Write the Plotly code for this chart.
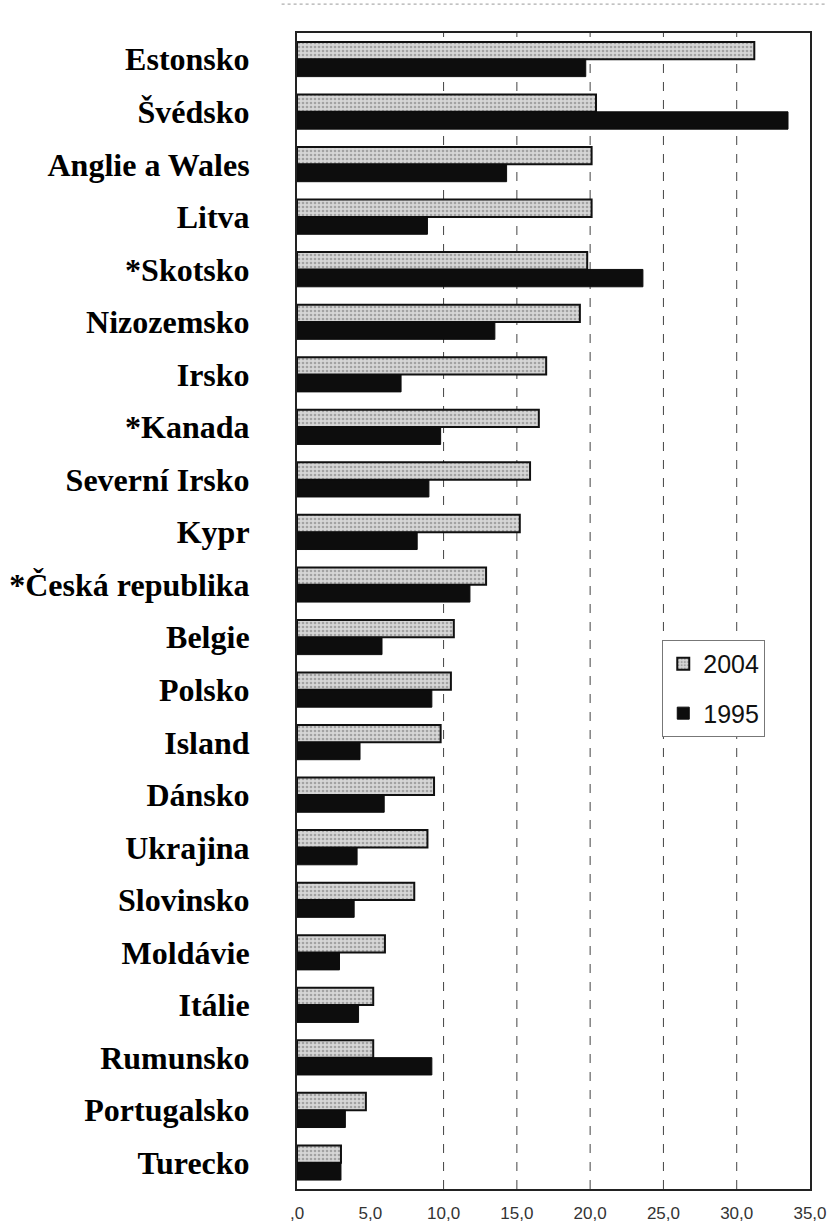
import plotly.graph_objects as go

countries = ['Estonsko', 'Švédsko', 'Anglie a Wales', 'Litva', '*Skotsko', 'Nizozemsko',
             'Irsko', '*Kanada', 'Severní Irsko', 'Kypr', '*Česká republika', 'Belgie',
             'Polsko', 'Island', 'Dánsko', 'Ukrajina', 'Slovinsko', 'Moldávie', 'Itálie',
             'Rumunsko', 'Portugalsko', 'Turecko']
v2004 = [31.2, 20.4, 20.1, 20.1, 19.8, 19.3, 17.0, 16.5, 15.9, 15.2, 12.9, 10.7,
         10.5, 9.8, 9.35, 8.9, 8.0, 6.0, 5.2, 5.2, 4.7, 3.0]
v1995 = [19.7, 33.5, 14.3, 8.9, 23.6, 13.5, 7.1, 9.8, 9.0, 8.2, 11.8, 5.8,
         9.2, 4.3, 5.95, 4.1, 3.9, 2.9, 4.2, 9.2, 3.3, 3.0]
tick_vals = [0, 5, 10, 15, 20, 25, 30, 35]
tick_text = [',0', '5,0', '10,0', '15,0', '20,0', '25,0', '30,0', '35,0']
grid_vals = [10, 15, 20, 25, 30]

fig = go.Figure()
fig.add_trace(go.Bar(
    y=countries, x=v2004, name='2004', orientation='h', legendgroup='a',
    marker=dict(color='#cccccc', line=dict(color='#111', width=2),
                pattern=dict(shape='.', fgcolor='#6e6e6e', bgcolor='#d6d6d6', size=4, solidity=0.35))
))
fig.add_trace(go.Bar(
    y=countries, x=v1995, name='1995', orientation='h', legendgroup='b',
    marker=dict(color='#0d0d0d', line=dict(color='#0d0d0d', width=1))
))

for g in grid_vals:
    fig.add_vline(x=g, line=dict(color='#444', width=1, dash='dash'), layer='below')

# scan edge artifact at the top
fig.add_shape(type='line', xref='paper', yref='paper', x0=-0.03, x1=1.04, y0=1.025, y1=1.025,
              line=dict(color='#999', width=1, dash='dot'))

fig.update_layout(
    width=827, height=1225,
    margin=dict(l=297, r=17, t=33, b=36),
    paper_bgcolor='white', plot_bgcolor='white',
    barmode='group', bargap=0.34, bargroupgap=0,
    legend=dict(x=0.712, y=0.475, xanchor='left', yanchor='top',
                bgcolor='white', bordercolor='#777', borderwidth=1,
                font=dict(family='Arial, Liberation Sans', size=25, color='#111'),
                tracegroupgap=14, itemwidth=30),
    xaxis=dict(range=[0, 35], tickvals=tick_vals, ticktext=tick_text, showgrid=False,
               zeroline=False, showline=True, linecolor='#222', linewidth=2, mirror=True,
               ticks='', automargin=False, ticklabelstandoff=8,
               tickfont=dict(family='Arial, Liberation Sans', size=17, color='#333')),
    yaxis=dict(autorange='reversed', showgrid=False, showline=True, linecolor='#222',
               linewidth=2, mirror=True, ticks='', ticklabelstandoff=39, automargin=False,
               tickfont=dict(family='Liberation Serif, Times New Roman', size=32, color='black',
                             weight='bold')),
    showlegend=True,
)

# drop the default page margin so the figure fills the window exactly
fig.write_html('out.html', config={'displayModeBar': False},
               post_script="document.body.style.margin='0';document.body.style.overflow='hidden';")
